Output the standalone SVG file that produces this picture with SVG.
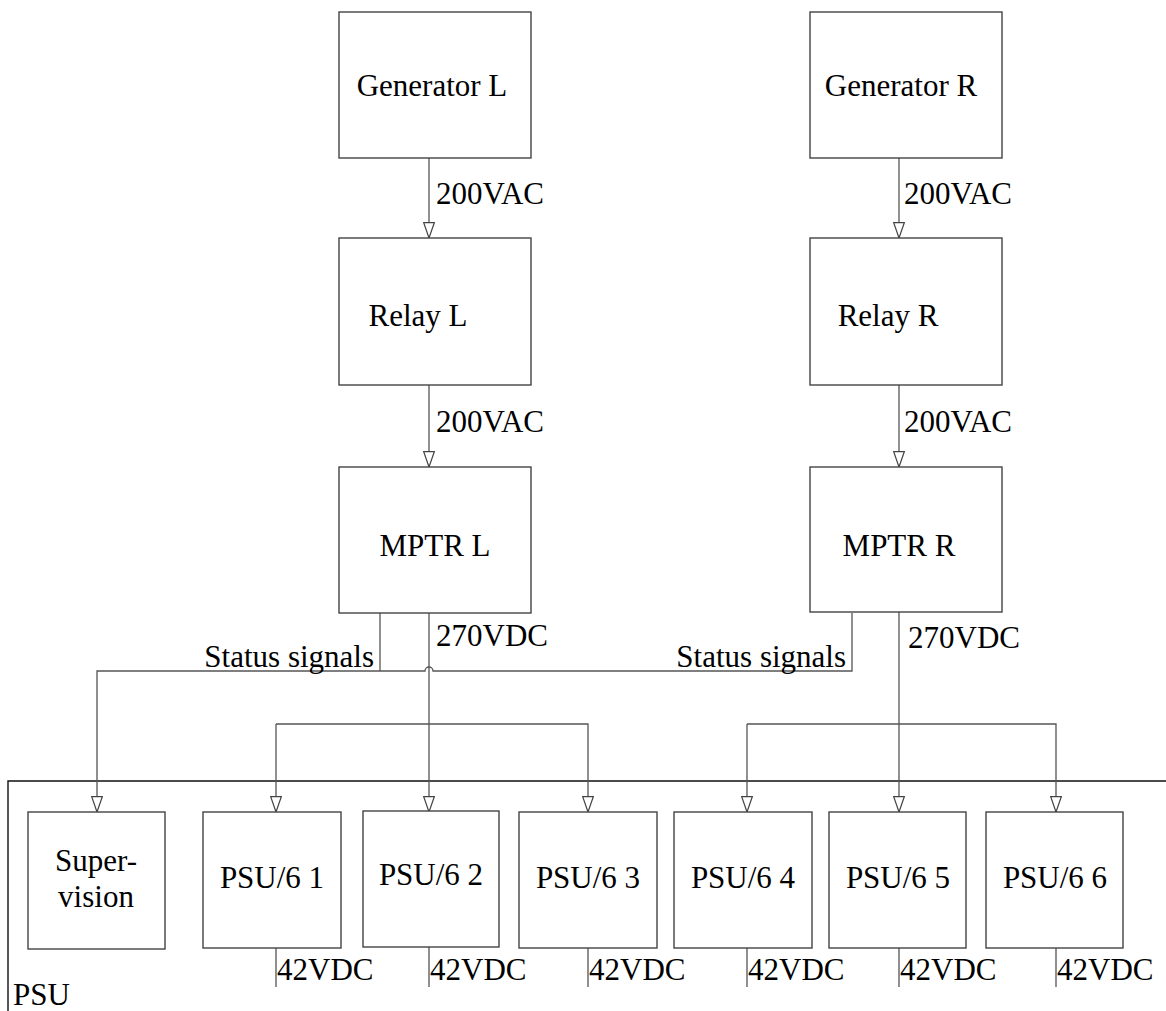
<svg xmlns="http://www.w3.org/2000/svg" width="1166" height="1011" viewBox="0 0 1166 1011">
<style>
.box{fill:#fff;stroke:#444;stroke-width:1.4}
.ln{fill:none;stroke:#555;stroke-width:1.3}
.t{font-size:31px;fill:#000}
.c{text-anchor:middle}
.e{text-anchor:end}
</style>
<defs>
<marker id="ah" markerUnits="userSpaceOnUse" markerWidth="17" markerHeight="12" refX="16" refY="6" orient="auto" viewBox="0 0 17 12">
<path d="M0.7,0.7 L16,6 L0.7,11.3 Z" fill="#fff" stroke="#444" stroke-width="1.2"/>
</marker>
</defs>
<g font-family="'Liberation Serif', 'Times New Roman', Times, serif">
<g id="psu-boundary">
<path d="M8,1011 V781 H1166" fill="none" stroke="#111" stroke-width="1.4"/>
<text class="t" x="13" y="1005">PSU</text>
</g>

<g id="connectors">
<path class="ln" d="M429,158 V238" marker-end="url(#ah)"/>
<path class="ln" d="M429,385 V467" marker-end="url(#ah)"/>
<path class="ln" d="M899,158 V238" marker-end="url(#ah)"/>
<path class="ln" d="M899,385 V467" marker-end="url(#ah)"/>
<path class="ln" d="M380,613 V671"/>
<path class="ln" d="M852,613 V671 H433 A4,4 0 0 0 425,671 H97 V812" marker-end="url(#ah)"/>
<path class="ln" d="M429,613 V812" marker-end="url(#ah)"/>
<path class="ln" d="M276,724 H588 V812" marker-end="url(#ah)"/>
<path class="ln" d="M276,724 V812" marker-end="url(#ah)"/>
<path class="ln" d="M899,612 V812" marker-end="url(#ah)"/>
<path class="ln" d="M747,724 H1056 V812" marker-end="url(#ah)"/>
<path class="ln" d="M747,724 V812" marker-end="url(#ah)"/>
<path class="ln" d="M276,948 V987 M429,947 V987 M588,948 V987 M747,948 V987 M899,948 V987 M1056,948 V987"/>
<text class="t" x="436" y="204">200VAC</text>
<text class="t" x="436" y="432">200VAC</text>
<text class="t" x="904" y="204">200VAC</text>
<text class="t" x="904" y="432">200VAC</text>
<text class="t" x="436" y="646">270VDC</text>
<text class="t" x="908" y="648">270VDC</text>
<text class="t e" x="374" y="667">Status signals</text>
<text class="t e" x="846" y="667">Status signals</text>
<text class="t" x="277" y="980">42VDC</text>
<text class="t" x="430" y="980">42VDC</text>
<text class="t" x="589" y="980">42VDC</text>
<text class="t" x="748" y="980">42VDC</text>
<text class="t" x="900" y="980">42VDC</text>
<text class="t" x="1057" y="980">42VDC</text>
</g>

<g id="generator-l"><rect class="box" x="339" y="12" width="192" height="146"/><text class="t c" x="432" y="96">Generator L</text></g>
<g id="generator-r"><rect class="box" x="810" y="12" width="192" height="146"/><text class="t c" x="901" y="96">Generator R</text></g>
<g id="relay-l"><rect class="box" x="339" y="238" width="192" height="147"/><text class="t c" x="418" y="326">Relay L</text></g>
<g id="relay-r"><rect class="box" x="810" y="238" width="192" height="147"/><text class="t c" x="888" y="326">Relay R</text></g>
<g id="mptr-l"><rect class="box" x="339" y="467" width="192" height="146"/><text class="t c" x="435" y="556">MPTR L</text></g>
<g id="mptr-r"><rect class="box" x="810" y="467" width="192" height="145"/><text class="t c" x="899" y="556">MPTR R</text></g>

<g id="supervision"><rect class="box" x="28" y="812" width="137" height="137"/><text class="t c" x="96" y="871">Super-</text><text class="t c" x="96" y="907">vision</text></g>
<g id="psu61"><rect class="box" x="203" y="812" width="138" height="136"/><text class="t c" x="272" y="888">PSU/6 1</text></g>
<g id="psu62"><rect class="box" x="363" y="811" width="136" height="136"/><text class="t c" x="431" y="885">PSU/6 2</text></g>
<g id="psu63"><rect class="box" x="519" y="812" width="138" height="136"/><text class="t c" x="588" y="888">PSU/6 3</text></g>
<g id="psu64"><rect class="box" x="674" y="812" width="138" height="136"/><text class="t c" x="743" y="888">PSU/6 4</text></g>
<g id="psu65"><rect class="box" x="829" y="812" width="137" height="136"/><text class="t c" x="898" y="888">PSU/6 5</text></g>
<g id="psu66"><rect class="box" x="986" y="812" width="137" height="136"/><text class="t c" x="1055" y="888">PSU/6 6</text></g>
</g>
</svg>
